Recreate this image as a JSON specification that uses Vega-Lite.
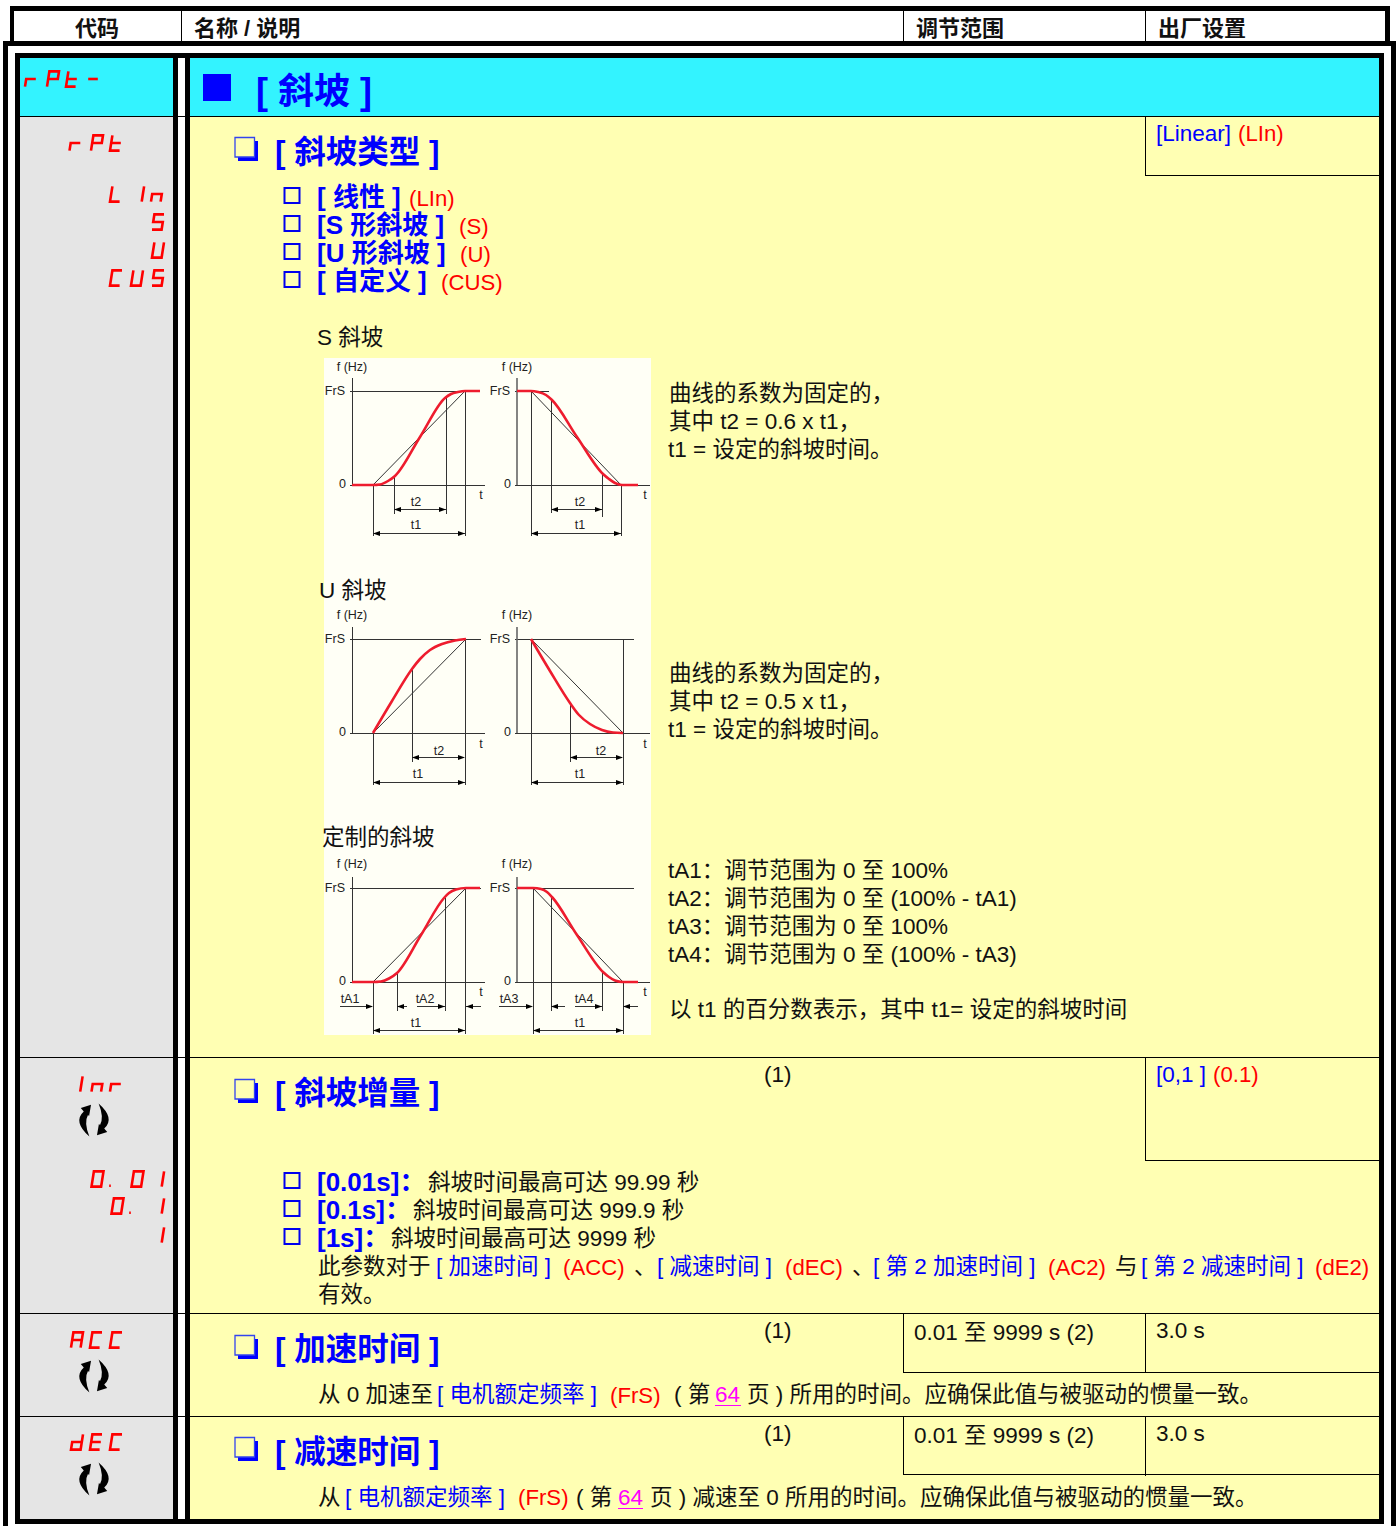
{
"$schema":"https://vega.github.io/schema/vega-lite/v6.json",
"width":1396,"height":1526,"padding":0,
"autosize":{"type":"fit","contains":"padding"},
"background":"#ffffff",
"config":{"view":{"stroke":null}},
"datasets":{
"panels":[
{"part":"code","x":20,"x2":173,"y":116,"y2":1519},
{"part":"head","x":20,"x2":173,"y":58,"y2":116},
{"part":"head","x":190,"x2":1379,"y":58,"y2":116},
{"part":"body","x":190,"x2":1379,"y":116,"y2":1519},
{"part":"diagram","x":324,"x2":651,"y":358,"y2":1035},
{"part":"frame","x":10,"x2":1390,"y":6,"y2":11},
{"part":"frame","x":10,"x2":14,"y":6,"y2":41},
{"part":"frame","x":1385,"x2":1390,"y":6,"y2":41},
{"part":"frame","x":3,"x2":1396,"y":41,"y2":46},
{"part":"frame","x":3,"x2":8,"y":41,"y2":1526},
{"part":"frame","x":1391,"x2":1396,"y":41,"y2":1526},
{"part":"frame","x":15,"x2":1384,"y":53,"y2":58},
{"part":"frame","x":15,"x2":20,"y":53,"y2":1524},
{"part":"frame","x":1379,"x2":1384,"y":53,"y2":1524},
{"part":"frame","x":15,"x2":1384,"y":1519,"y2":1524},
{"part":"frame","x":173,"x2":178,"y":58,"y2":1519},
{"part":"frame","x":185,"x2":190,"y":58,"y2":1519},
{"part":"blue","x":203,"x2":231,"y":74,"y2":101},
{"part":"blue","x":238,"x2":258,"y":141,"y2":161},
{"part":"blue","x":238,"x2":258,"y":1083,"y2":1103},
{"part":"blue","x":238,"x2":258,"y":1339,"y2":1359},
{"part":"blue","x":238,"x2":258,"y":1441,"y2":1461}
],
"boxes":[
{"x":235,"x2":254.5,"y":137.5,"y2":157},
{"x":235,"x2":254.5,"y":1079.5,"y2":1099},
{"x":235,"x2":254.5,"y":1335.5,"y2":1355},
{"x":235,"x2":254.5,"y":1437.5,"y2":1457}
],
"checks":[
{"x":284.5,"x2":299.5,"y":188,"y2":203},
{"x":284.5,"x2":299.5,"y":216,"y2":231},
{"x":284.5,"x2":299.5,"y":244,"y2":259},
{"x":284.5,"x2":299.5,"y":272,"y2":287},
{"x":284.5,"x2":299.5,"y":1173,"y2":1188},
{"x":284.5,"x2":299.5,"y":1201,"y2":1216},
{"x":284.5,"x2":299.5,"y":1229,"y2":1244}
],
"tableLines":[
{"x":181.5,"y":11,"x2":181.5,"y2":41},
{"x":903.5,"y":11,"x2":903.5,"y2":41},
{"x":1145.5,"y":11,"x2":1145.5,"y2":41},
{"x":20,"y":116.5,"x2":1379,"y2":116.5},
{"x":20,"y":1057.5,"x2":1379,"y2":1057.5},
{"x":20,"y":1313.5,"x2":1379,"y2":1313.5},
{"x":20,"y":1416.5,"x2":1379,"y2":1416.5},
{"x":1145.5,"y":116,"x2":1145.5,"y2":175.5},
{"x":1145,"y":175.5,"x2":1379,"y2":175.5},
{"x":1145.5,"y":1057,"x2":1145.5,"y2":1160.5},
{"x":1145,"y":1160.5,"x2":1379,"y2":1160.5},
{"x":903.5,"y":1313,"x2":903.5,"y2":1372.5},
{"x":1145.5,"y":1313,"x2":1145.5,"y2":1372.5},
{"x":903,"y":1372.5,"x2":1379,"y2":1372.5},
{"x":903.5,"y":1416,"x2":903.5,"y2":1474.5},
{"x":1145.5,"y":1416,"x2":1145.5,"y2":1476},
{"x":903,"y":1474.5,"x2":1379,"y2":1474.5}
],
"diagramLines":[
{"x":352.5,"y":378,"x2":352.5,"y2":485},
{"x":350,"y":485.5,"x2":485,"y2":485.5},
{"x":350,"y":391.5,"x2":465,"y2":391.5},
{"x":373,"y":485,"x2":465,"y2":391},
{"x":394.5,"y":476,"x2":394.5,"y2":514},
{"x":446.5,"y":398,"x2":446.5,"y2":514},
{"x":373.5,"y":485,"x2":373.5,"y2":536},
{"x":465.5,"y":391,"x2":465.5,"y2":536},
{"x":394,"y":509.5,"x2":446,"y2":509.5},
{"x":373,"y":533.5,"x2":465,"y2":533.5},
{"x":515,"y":391.5,"x2":549,"y2":391.5},
{"x":515,"y":485.5,"x2":650,"y2":485.5},
{"x":531,"y":391,"x2":621,"y2":485},
{"x":531.5,"y":391,"x2":531.5,"y2":536},
{"x":551.5,"y":400,"x2":551.5,"y2":513},
{"x":602.5,"y":474,"x2":602.5,"y2":517},
{"x":621.5,"y":485,"x2":621.5,"y2":536},
{"x":551,"y":509.5,"x2":602,"y2":509.5},
{"x":531,"y":533.5,"x2":621,"y2":533.5},
{"x":352.5,"y":627,"x2":352.5,"y2":733},
{"x":350,"y":733.5,"x2":485,"y2":733.5},
{"x":350,"y":639.5,"x2":481,"y2":639.5},
{"x":373,"y":733,"x2":466,"y2":639},
{"x":412.5,"y":669,"x2":412.5,"y2":762},
{"x":373.5,"y":733,"x2":373.5,"y2":785},
{"x":465.5,"y":639,"x2":465.5,"y2":785},
{"x":412,"y":757.5,"x2":463,"y2":757.5},
{"x":373,"y":782.5,"x2":465,"y2":782.5},
{"x":515,"y":639.5,"x2":634,"y2":639.5},
{"x":515,"y":733.5,"x2":650,"y2":733.5},
{"x":531,"y":639,"x2":623,"y2":733},
{"x":531.5,"y":639,"x2":531.5,"y2":785},
{"x":570.5,"y":703,"x2":570.5,"y2":762},
{"x":623.5,"y":639,"x2":623.5,"y2":785},
{"x":570,"y":757.5,"x2":622,"y2":757.5},
{"x":531,"y":782.5,"x2":623,"y2":782.5},
{"x":352.5,"y":877,"x2":352.5,"y2":982},
{"x":350,"y":982.5,"x2":485,"y2":982.5},
{"x":350,"y":888.5,"x2":481,"y2":888.5},
{"x":373,"y":982,"x2":466,"y2":888},
{"x":397.5,"y":973,"x2":397.5,"y2":1011},
{"x":445.5,"y":898,"x2":445.5,"y2":1011},
{"x":373.5,"y":982,"x2":373.5,"y2":1034},
{"x":465.5,"y":888,"x2":465.5,"y2":1034},
{"x":340,"y":1006.5,"x2":372,"y2":1006.5},
{"x":397,"y":1006.5,"x2":407,"y2":1006.5},
{"x":417,"y":1006.5,"x2":445,"y2":1006.5},
{"x":466,"y":1006.5,"x2":481,"y2":1006.5},
{"x":373,"y":1030.5,"x2":465,"y2":1030.5},
{"x":515,"y":888.5,"x2":634,"y2":888.5},
{"x":515,"y":982.5,"x2":650,"y2":982.5},
{"x":533,"y":888,"x2":623,"y2":982},
{"x":533.5,"y":888,"x2":533.5,"y2":1034},
{"x":551.5,"y":895,"x2":551.5,"y2":1011},
{"x":602.5,"y":972,"x2":602.5,"y2":1011},
{"x":623.5,"y":982,"x2":623.5,"y2":1034},
{"x":499,"y":1006.5,"x2":531,"y2":1006.5},
{"x":551,"y":1006.5,"x2":565,"y2":1006.5},
{"x":575,"y":1006.5,"x2":602,"y2":1006.5},
{"x":623,"y":1006.5,"x2":638,"y2":1006.5},
{"x":533,"y":1030.5,"x2":623,"y2":1030.5}
],
"axisBars":[
{"x":517,"y":378,"x2":517,"y2":485},
{"x":517,"y":627,"x2":517,"y2":733},
{"x":517,"y":877,"x2":517,"y2":982}
],
"curves":[
{"curve":"sUp","x":352,"y":485},{"curve":"sUp","x":373,"y":485},{"curve":"sUp","x":380,"y":484.5},{"curve":"sUp","x":388,"y":481},{"curve":"sUp","x":395,"y":476},{"curve":"sUp","x":420,"y":437},{"curve":"sUp","x":445,"y":398},{"curve":"sUp","x":451,"y":394},{"curve":"sUp","x":458,"y":392},{"curve":"sUp","x":465,"y":391},{"curve":"sUp","x":480,"y":391},
{"curve":"sDown","x":517,"y":391},{"curve":"sDown","x":531,"y":391},{"curve":"sDown","x":538,"y":392},{"curve":"sDown","x":546,"y":395},{"curve":"sDown","x":552,"y":400},{"curve":"sDown","x":577,"y":437},{"curve":"sDown","x":603,"y":474},{"curve":"sDown","x":609,"y":479},{"curve":"sDown","x":615,"y":483},{"curve":"sDown","x":622,"y":485},{"curve":"sDown","x":638,"y":485},
{"curve":"uUp","x":373,"y":733},{"curve":"uUp","x":392,"y":701},{"curve":"uUp","x":412,"y":669},{"curve":"uUp","x":420,"y":659},{"curve":"uUp","x":430,"y":650},{"curve":"uUp","x":442,"y":644},{"curve":"uUp","x":455,"y":640.5},{"curve":"uUp","x":466,"y":639},
{"curve":"uDown","x":531,"y":639},{"curve":"uDown","x":550,"y":671},{"curve":"uDown","x":570,"y":703},{"curve":"uDown","x":579,"y":715},{"curve":"uDown","x":590,"y":724},{"curve":"uDown","x":602,"y":730},{"curve":"uDown","x":613,"y":732.5},{"curve":"uDown","x":623,"y":733},
{"curve":"cUp","x":352,"y":982},{"curve":"cUp","x":373,"y":982},{"curve":"cUp","x":381,"y":981.5},{"curve":"cUp","x":389,"y":978.5},{"curve":"cUp","x":397,"y":973},{"curve":"cUp","x":421,"y":935},{"curve":"cUp","x":444,"y":898},{"curve":"cUp","x":449,"y":893},{"curve":"cUp","x":456,"y":889.5},{"curve":"cUp","x":466,"y":888},{"curve":"cUp","x":480,"y":888},
{"curve":"cDown","x":517,"y":888},{"curve":"cDown","x":533,"y":888},{"curve":"cDown","x":541,"y":889},{"curve":"cDown","x":547,"y":892},{"curve":"cDown","x":552,"y":897},{"curve":"cDown","x":577,"y":935},{"curve":"cDown","x":603,"y":972},{"curve":"cDown","x":609,"y":977},{"curve":"cDown","x":615,"y":980.5},{"curve":"cDown","x":623,"y":982},{"curve":"cDown","x":638,"y":982}
],
"arrows":[
{"dir":"left","x":394,"y":509.5},{"dir":"right","x":446,"y":509.5},{"dir":"left","x":373,"y":533.5},{"dir":"right","x":465,"y":533.5},
{"dir":"left","x":551,"y":509.5},{"dir":"right","x":602,"y":509.5},{"dir":"left","x":531,"y":533.5},{"dir":"right","x":621,"y":533.5},
{"dir":"left","x":412,"y":757.5},{"dir":"right","x":465,"y":757.5},{"dir":"left","x":373,"y":782.5},{"dir":"right","x":465,"y":782.5},
{"dir":"left","x":570,"y":757.5},{"dir":"right","x":623,"y":757.5},{"dir":"left","x":531,"y":782.5},{"dir":"right","x":623,"y":782.5},
{"dir":"right","x":373,"y":1006.5},{"dir":"left","x":397,"y":1006.5},{"dir":"right","x":445,"y":1006.5},{"dir":"left","x":466,"y":1006.5},{"dir":"left","x":373,"y":1030.5},{"dir":"right","x":465,"y":1030.5},
{"dir":"right","x":533,"y":1006.5},{"dir":"left","x":551,"y":1006.5},{"dir":"right","x":602,"y":1006.5},{"dir":"left","x":623,"y":1006.5},{"dir":"left","x":533,"y":1030.5},{"dir":"right","x":623,"y":1030.5}
],
"rotateIcons":[{"x":94,"y":1120},{"x":94,"y":1376},{"x":94,"y":1479}],
"glyphs":[
{"g":"r","x":31,"y":79},{"g":"P","x":53,"y":79},{"g":"t","x":72,"y":79},{"g":"-","x":93,"y":79},
{"g":"r","x":75.5,"y":143},{"g":"P","x":97,"y":143},{"g":"t","x":116,"y":143},
{"g":"L","x":116,"y":194},{"g":"I","x":142.5,"y":194},{"g":"n","x":157,"y":194},
{"g":"S","x":158,"y":222},{"g":"U","x":158,"y":250},
{"g":"C","x":116,"y":278},{"g":"U","x":137,"y":278},{"g":"S","x":158,"y":278},
{"g":"I","x":81,"y":1084},{"g":"n","x":97.5,"y":1084},{"g":"r","x":116,"y":1084},
{"g":"0","x":97.5,"y":1179},{"g":".","x":110,"y":1179},{"g":"0","x":137.5,"y":1179},{"g":"I","x":162.5,"y":1179},
{"g":"0","x":117.5,"y":1206},{"g":".","x":130,"y":1206},{"g":"I","x":162.5,"y":1206},
{"g":"I","x":162.5,"y":1235},
{"g":"A","x":77,"y":1340},{"g":"C","x":96,"y":1340},{"g":"C","x":116,"y":1340},
{"g":"d","x":77,"y":1442},{"g":"E","x":96,"y":1442},{"g":"C","x":116,"y":1442}
],
"underlines":[{"x":715,"y":1405.5,"x2":741,"y2":1405.5},{"x":618,"y":1508.5,"x2":643,"y2":1508.5}],
"header":[
{"x":75,"y":36,"t":"代码"},{"x":194,"y":36,"t":"名称 / 说明"},{"x":916,"y":36,"t":"调节范围"},{"x":1158,"y":36,"t":"出厂设置"}
],
"title36":[{"x":256,"y":104,"t":"[ 斜坡 ]"}],
"sec32":[
{"x":275,"y":163,"t":"[ 斜坡类型 ]"},{"x":275,"y":1104,"t":"[ 斜坡增量 ]"},{"x":275,"y":1360,"t":"[ 加速时间 ]"},{"x":275,"y":1463,"t":"[ 减速时间 ]"}
],
"item26":[
{"x":317,"y":206,"t":"[ 线性 ]"},{"x":317,"y":234,"t":"[S 形斜坡 ]"},{"x":317,"y":262,"t":"[U 形斜坡 ]"},{"x":317,"y":290,"t":"[ 自定义 ]"},
{"x":317,"y":1191,"t":"[0.01s]："},{"x":317,"y":1219,"t":"[0.1s]："},{"x":317,"y":1247,"t":"[1s]："}
],
"blue22":[
{"x":1156,"y":141,"t":"[Linear]"},{"x":1156,"y":1082,"t":"[0,1 ]"},
{"x":436,"y":1274,"t":"[ 加速时间 ]"},{"x":657,"y":1274,"t":"[ 减速时间 ]"},{"x":873,"y":1274,"t":"[ 第 2 加速时间 ]"},{"x":1141,"y":1274,"t":"[ 第 2 减速时间 ]"},
{"x":437,"y":1402,"t":"[ 电机额定频率 ]"},{"x":345,"y":1505,"t":"[ 电机额定频率 ]"}
],
"red22":[
{"x":409,"y":206,"t":"(LIn)"},{"x":459,"y":234,"t":"(S)"},{"x":460,"y":262,"t":"(U)"},{"x":441,"y":290,"t":"(CUS)"},
{"x":1238,"y":141,"t":"(LIn)"},{"x":1213,"y":1082,"t":"(0.1)"},
{"x":563,"y":1275,"t":"(ACC)"},{"x":785,"y":1275,"t":"(dEC)"},{"x":1048,"y":1275,"t":"(AC2)"},{"x":1315,"y":1275,"t":"(dE2)"},
{"x":610,"y":1403,"t":"(FrS)"},{"x":518,"y":1505,"t":"(FrS)"}
],
"black22":[
{"x":317,"y":345,"t":"S 斜坡"},{"x":319,"y":598,"t":"U 斜坡"},{"x":322,"y":845,"t":"定制的斜坡"},
{"x":669,"y":401,"t":"曲线的系数为固定的，"},{"x":669,"y":429,"t":"其中 t2 = 0.6 x t1，"},{"x":668,"y":457,"t":"t1 = 设定的斜坡时间。"},
{"x":669,"y":681,"t":"曲线的系数为固定的，"},{"x":669,"y":709,"t":"其中 t2 = 0.5 x t1，"},{"x":668,"y":737,"t":"t1 = 设定的斜坡时间。"},
{"x":668,"y":878,"t":"tA1：调节范围为 0 至 100%"},{"x":668,"y":906,"t":"tA2：调节范围为 0 至 (100% - tA1)"},{"x":668,"y":934,"t":"tA3：调节范围为 0 至 100%"},{"x":668,"y":962,"t":"tA4：调节范围为 0 至 (100% - tA3)"},
{"x":669,"y":1017,"t":"以 t1 的百分数表示，其中 t1= 设定的斜坡时间"},
{"x":764,"y":1082,"t":"(1)"},{"x":764,"y":1338,"t":"(1)"},{"x":764,"y":1441,"t":"(1)"},
{"x":428,"y":1190,"t":"斜坡时间最高可达 99.99 秒"},{"x":413,"y":1218,"t":"斜坡时间最高可达 999.9 秒"},{"x":391,"y":1246,"t":"斜坡时间最高可达 9999 秒"},
{"x":318,"y":1274,"t":"此参数对于"},{"x":634,"y":1274,"t":"、"},{"x":852,"y":1274,"t":"、"},{"x":1115,"y":1274,"t":"与"},{"x":318,"y":1302,"t":"有效。"},
{"x":914,"y":1340,"t":"0.01 至 9999 s (2)"},{"x":1156,"y":1338,"t":"3.0 s"},
{"x":318,"y":1402,"t":"从 0 加速至"},{"x":674,"y":1402,"t":"( 第"},{"x":747,"y":1402,"t":"页 ) 所用的时间。应确保此值与被驱动的惯量一致。"},
{"x":914,"y":1443,"t":"0.01 至 9999 s (2)"},{"x":1156,"y":1441,"t":"3.0 s"},
{"x":318,"y":1505,"t":"从"},{"x":576,"y":1505,"t":"( 第"},{"x":650,"y":1505,"t":"页 ) 减速至 0 所用的时间。应确保此值与被驱动的惯量一致。"}
],
"magenta22":[{"x":715,"y":1402,"t":"64"},{"x":618,"y":1505,"t":"64"}],
"smallLabels":[
{"x":352,"y":371,"t":"f (Hz)"},{"x":517,"y":371,"t":"f (Hz)"},{"x":416,"y":506,"t":"t2"},{"x":580,"y":506,"t":"t2"},{"x":416,"y":529,"t":"t1"},{"x":580,"y":529,"t":"t1"},{"x":481,"y":499,"t":"t"},{"x":645,"y":499,"t":"t"},
{"x":352,"y":619,"t":"f (Hz)"},{"x":517,"y":619,"t":"f (Hz)"},{"x":439,"y":755,"t":"t2"},{"x":601,"y":755,"t":"t2"},{"x":418,"y":778,"t":"t1"},{"x":580,"y":778,"t":"t1"},{"x":481,"y":748,"t":"t"},{"x":645,"y":748,"t":"t"},
{"x":352,"y":868,"t":"f (Hz)"},{"x":517,"y":868,"t":"f (Hz)"},{"x":350,"y":1003,"t":"tA1"},{"x":425,"y":1003,"t":"tA2"},{"x":509,"y":1003,"t":"tA3"},{"x":584,"y":1003,"t":"tA4"},{"x":416,"y":1027,"t":"t1"},{"x":580,"y":1027,"t":"t1"},{"x":481,"y":996,"t":"t"},{"x":645,"y":996,"t":"t"}
],
"smallRight":[
{"x":345,"y":395,"t":"FrS"},{"x":510,"y":395,"t":"FrS"},{"x":346,"y":488,"t":"0"},{"x":511,"y":488,"t":"0"},
{"x":345,"y":643,"t":"FrS"},{"x":510,"y":643,"t":"FrS"},{"x":346,"y":736,"t":"0"},{"x":511,"y":736,"t":"0"},
{"x":345,"y":892,"t":"FrS"},{"x":510,"y":892,"t":"FrS"},{"x":346,"y":985,"t":"0"},{"x":511,"y":985,"t":"0"}
]
},
"encoding":{
"x":{"field":"x","type":"quantitative","axis":null,"scale":{"domain":[0,1396],"nice":false,"zero":false}},
"y":{"field":"y","type":"quantitative","axis":null,"scale":{"domain":[1526,0],"nice":false,"zero":false}}
},
"resolve":{"scale":{"shape":"independent"}},
"layer":[
{"data":{"name":"panels"},"mark":{"type":"rect","strokeWidth":0},"encoding":{"x2":{"field":"x2"},"y2":{"field":"y2"},"fill":{"field":"part","type":"nominal","legend":null,"scale":{"domain":["code","head","body","diagram","frame","blue"],"range":["#e5e5e5","#33f3ff","#ffffb3","#fffff6","#000000","#0000ff"]}}}},
{"data":{"name":"boxes"},"mark":{"type":"rect","fill":"#ffffb3","stroke":"#3344ee","strokeWidth":1.3},"encoding":{"x2":{"field":"x2"},"y2":{"field":"y2"}}},
{"data":{"name":"checks"},"mark":{"type":"rect","fill":"#ffffb3","stroke":"#0000ee","strokeWidth":2},"encoding":{"x2":{"field":"x2"},"y2":{"field":"y2"}}},
{"data":{"name":"tableLines"},"mark":{"type":"rule","color":"#000000","strokeWidth":1},"encoding":{"x2":{"field":"x2"},"y2":{"field":"y2"}}},
{"data":{"name":"diagramLines"},"mark":{"type":"rule","color":"#333333","strokeWidth":1},"encoding":{"x2":{"field":"x2"},"y2":{"field":"y2"}}},
{"data":{"name":"axisBars"},"mark":{"type":"rule","color":"#666666","strokeWidth":1.6},"encoding":{"x2":{"field":"x2"},"y2":{"field":"y2"}}},
{"data":{"name":"curves"},"mark":{"type":"line","color":"#ee1c2e","strokeWidth":2.6,"interpolate":"monotone"},"encoding":{"detail":{"field":"curve"}}},
{"data":{"name":"arrows"},"mark":{"type":"point","filled":true,"fill":"#000000","opacity":1,"strokeWidth":0,"size":49},"encoding":{"shape":{"field":"dir","type":"nominal","legend":null,"scale":{"domain":["left","right"],"range":["M 0 0 L 2 -0.7 L 2 0.7 Z","M 0 0 L -2 -0.7 L -2 0.7 Z"]}}}},
{"data":{"name":"rotateIcons"},"mark":{"type":"point","filled":true,"fill":"#000000","opacity":1,"strokeWidth":0,"size":1089,"shape":"M -0.18 -0.93 L -0.8 -0.72 L -0.62 -0.52 Q -1.3 0.1 -0.28 1 Q -0.63 0.15 -0.36 -0.32 L -0.3 -0.22 Z M 0.18 0.93 L 0.8 0.72 L 0.62 0.52 Q 1.3 -0.1 0.28 -1 Q 0.63 -0.15 0.36 0.32 L 0.3 0.22 Z"}},
{"data":{"name":"glyphs"},"mark":{"type":"point","filled":false,"fill":null,"stroke":"#ff0000","opacity":1,"strokeWidth":2.6,"size":256},"encoding":{"shape":{"field":"g","type":"nominal","legend":null,"scale":{"domain":["r","P","t","-","L","I","n","S","U","C","0",".","A","d","E"],"range":[
"M -0.75 0.95 L -0.6 0 L 0.6 0",
"M -0.75 0.95 L -0.45 -0.95 L 0.75 -0.95 L 0.6 0 L -0.6 0",
"M -0.45 -0.95 L -0.75 0.95 L 0.45 0.95 M -0.6 0 L 0.6 0",
"M -0.6 0 L 0.6 0",
"M -0.45 -0.95 L -0.75 0.95 L 0.45 0.95",
"M 0.2 -0.95 L -0.1 0.95",
"M -0.75 0.95 L -0.6 0 L 0.6 0 L 0.45 0.95",
"M 0.75 -0.95 L -0.45 -0.95 L -0.6 0 L 0.6 0 L 0.45 0.95 L -0.75 0.95",
"M -0.45 -0.95 L -0.75 0.95 L 0.45 0.95 L 0.75 -0.95",
"M 0.75 -0.95 L -0.45 -0.95 L -0.75 0.95 L 0.45 0.95",
"M -0.45 -0.95 L 0.75 -0.95 L 0.45 0.95 L -0.75 0.95 Z",
"M -0.1 0.85 L 0.1 0.85",
"M -0.75 0.95 L -0.45 -0.95 L 0.75 -0.95 L 0.45 0.95 M -0.6 0 L 0.6 0",
"M 0.75 -0.95 L 0.45 0.95 L -0.75 0.95 L -0.6 0 L 0.6 0",
"M 0.75 -0.95 L -0.45 -0.95 L -0.75 0.95 L 0.45 0.95 M -0.6 0 L 0.6 0"
]}}}},
{"data":{"name":"underlines"},"mark":{"type":"rule","color":"#ff00ff","strokeWidth":1},"encoding":{"x2":{"field":"x2"},"y2":{"field":"y2"}}},
{"data":{"name":"header"},"mark":{"type":"text","align":"left","baseline":"alphabetic","font":"'Liberation Sans','Noto Sans CJK SC'","fontSize":22,"fontWeight":"bold","color":"#111111"},"encoding":{"text":{"field":"t"}}},
{"data":{"name":"title36"},"mark":{"type":"text","align":"left","baseline":"alphabetic","font":"'Liberation Sans','Noto Sans CJK SC'","fontSize":36,"fontWeight":"bold","color":"#0000ff"},"encoding":{"text":{"field":"t"}}},
{"data":{"name":"sec32"},"mark":{"type":"text","align":"left","baseline":"alphabetic","font":"'Liberation Sans','Noto Sans CJK SC'","fontSize":31.5,"fontWeight":"bold","color":"#0000ff"},"encoding":{"text":{"field":"t"}}},
{"data":{"name":"item26"},"mark":{"type":"text","align":"left","baseline":"alphabetic","font":"'Liberation Sans','Noto Sans CJK SC'","fontSize":26,"fontWeight":"bold","color":"#0000ff"},"encoding":{"text":{"field":"t"}}},
{"data":{"name":"blue22"},"mark":{"type":"text","align":"left","baseline":"alphabetic","font":"'Liberation Sans','Noto Sans CJK SC'","fontSize":22.5,"color":"#0000ff"},"encoding":{"text":{"field":"t"}}},
{"data":{"name":"red22"},"mark":{"type":"text","align":"left","baseline":"alphabetic","font":"'Liberation Sans','Noto Sans CJK SC'","fontSize":22.2,"color":"#ff0000"},"encoding":{"text":{"field":"t"}}},
{"data":{"name":"black22"},"mark":{"type":"text","align":"left","baseline":"alphabetic","font":"'Liberation Sans','Noto Sans CJK SC'","fontSize":22.5,"color":"#111111"},"encoding":{"text":{"field":"t"}}},
{"data":{"name":"magenta22"},"mark":{"type":"text","align":"left","baseline":"alphabetic","font":"'Liberation Sans','Noto Sans CJK SC'","fontSize":22.5,"color":"#ff00ff"},"encoding":{"text":{"field":"t"}}},
{"data":{"name":"smallLabels"},"mark":{"type":"text","align":"center","baseline":"alphabetic","font":"'Liberation Sans'","fontSize":12.5,"color":"#222222"},"encoding":{"text":{"field":"t"}}},
{"data":{"name":"smallRight"},"mark":{"type":"text","align":"right","baseline":"alphabetic","font":"'Liberation Sans'","fontSize":12.5,"color":"#222222"},"encoding":{"text":{"field":"t"}}}
]
}
